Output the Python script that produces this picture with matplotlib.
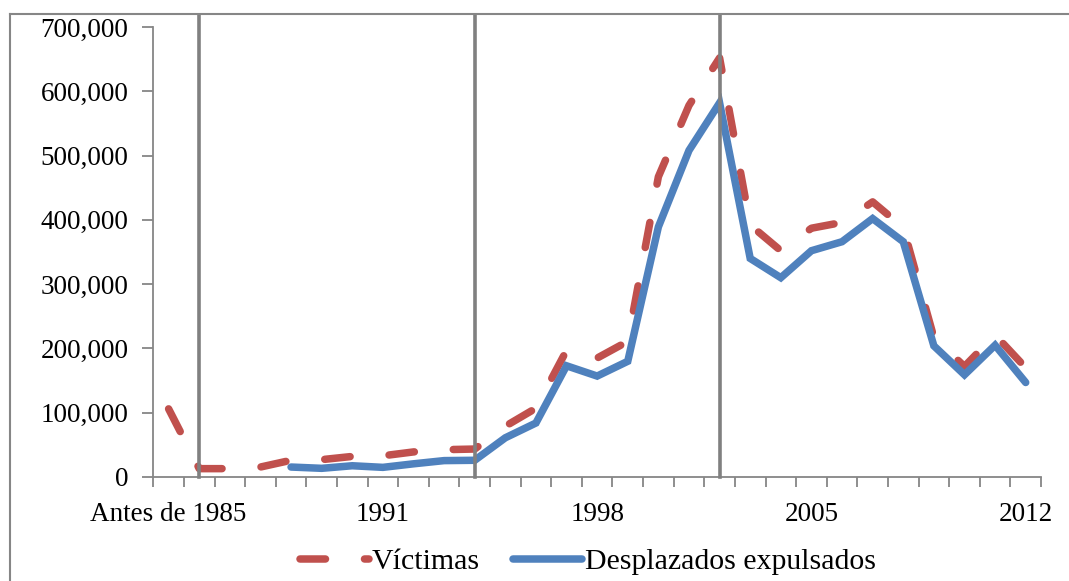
import matplotlib
matplotlib.use("Agg")
import matplotlib.pyplot as plt
from matplotlib.lines import Line2D
from matplotlib.ticker import FuncFormatter

# ---- data ----
categories = ["Antes de 1985"] + [str(y) for y in range(1985, 2013)]
victimas = [106000, 13000, 13000, 15500, 26000, 27000, 32000, 33000, 39000,
            42500, 43500, 79000, 107000, 197000, 185000, 211000, 467000,
            578000, 652000, 392000, 352000, 387000, 396000, 428000, 388000,
            217000, 172000, 221000, 170000]
# Desplazados expulsados start in 1988
desplazados_years = [str(y) for y in range(1988, 2013)]
desplazados = [15500, 13500, 17500, 15000, 20500, 25500, 26000, 61000, 84000,
               173000, 157000, 180000, 389000, 508000, 582000, 340000, 310000,
               352000, 366000, 402000, 366000, 204000, 159000, 205000, 147000]
label_ticks = ["Antes de 1985", "1991", "1998", "2005", "2012"]
vline_years = ["1985", "1994", "2002"]
series_names = ["Víctimas", "Desplazados expulsados"]

RED = "#C0504D"
BLUE = "#4F81BD"
GREY = "#868686"
FONT = "Liberation Serif"
FS = 19.5
FS_LEG = 21.5

plt.rcParams["font.family"] = [FONT, "DejaVu Serif"]

fig = plt.figure(figsize=(10.69, 5.81), dpi=100)
ax = fig.add_axes([153.3 / 1069, 104 / 581, (1041 - 153.3) / 1069, 450 / 581])

xv = list(range(len(categories)))
xd = [categories.index(y) for y in desplazados_years]

LW = 5.4
ax.plot(xv, victimas, color=RED, lw=LW, dashes=(3.4, 5.2),
        dash_capstyle="round", solid_capstyle="round", zorder=2,
        label=series_names[0])
ax.plot(xd, desplazados, color=BLUE, lw=LW, solid_capstyle="round",
        solid_joinstyle="miter", zorder=3, label=series_names[1])

for y in vline_years:
    ax.axvline(categories.index(y), ymin=0, ymax=1.027, color="#808080",
               lw=2.6, clip_on=False, zorder=5)

ax.set_xlim(-0.5, len(categories) - 0.5)
ax.set_ylim(0, 700000)
ax.set_yticks(range(0, 700001, 100000))
ax.yaxis.set_major_formatter(FuncFormatter(lambda v, p: f"{int(v):,}"))

# boundary ticks (no labels) and labelled centre positions (no tick marks)
ax.set_xticks([i - 0.5 for i in range(len(categories) + 1)])
ax.set_xticklabels([])
ax.set_xticks([categories.index(c) for c in label_ticks], minor=True)
ax.set_xticklabels(label_ticks, minor=True)
ax.tick_params(axis="x", which="minor", length=0, pad=18, labelsize=FS)
ax.tick_params(axis="x", which="major", length=7, width=1.3, color=GREY,
               direction="out")
ax.tick_params(axis="y", length=8, width=1.3, color=GREY, direction="out",
               pad=10, labelsize=FS)

for s in ["top", "right"]:
    ax.spines[s].set_visible(False)
for s in ["left", "bottom"]:
    ax.spines[s].set_color(GREY)
    ax.spines[s].set_linewidth(1.3)

# chart border (partially visible)
ytop = 1 - 13.5 / 581
xl = 10 / 1069
fig.add_artist(Line2D([xl, 1.0], [ytop, ytop], transform=fig.transFigure,
                      color=GREY, lw=1.5))
fig.add_artist(Line2D([xl, xl], [0, ytop], transform=fig.transFigure,
                      color=GREY, lw=1.5))

fig.legend(loc="center", bbox_to_anchor=(0.55, 0.033), ncol=2, frameon=False,
           fontsize=FS_LEG, handlelength=2.3, handletextpad=0.1,
           columnspacing=1.1, borderaxespad=0)

fig.savefig("out.png", dpi=100)
